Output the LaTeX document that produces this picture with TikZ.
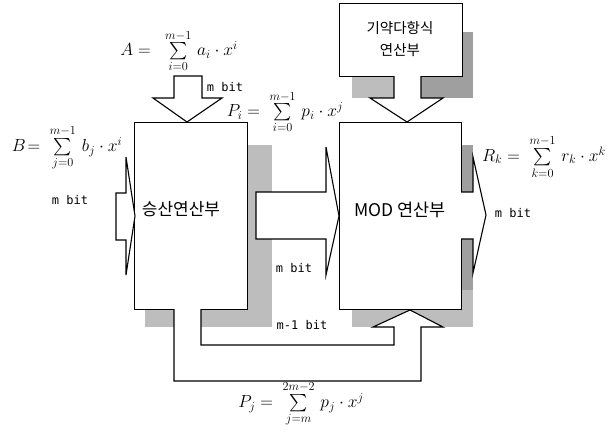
\RequirePackage{fix-cm}
\documentclass[tikz,border=0pt]{standalone}
\usepackage{exscale}
\usepackage{fontspec}
\newfontfamily\kr{Noto Sans CJK KR}
\newfontfamily\monofnt{DejaVu Sans Mono}
\begin{document}
\begin{tikzpicture}[x=1pt,y=-1pt,
  shl/.style={fill=gray!52,draw=none},
  shd/.style={fill=gray!75,draw=none},
  blk/.style={draw,line width=1.4pt,fill=white,inner sep=0pt,anchor=north west},
  barrow/.style={draw,line width=1.1pt,fill=white,line join=miter},
  lbl/.style={font=\monofnt\fontsize{12}{14}\selectfont,inner sep=0pt},
  ktxt/.style={font=\kr\fontsize{17}{20}\selectfont,inner sep=0pt},
  frm/.style={font=\fontsize{17.5}{20}\selectfont,inner sep=0pt}]
\useasboundingbox (0,0) rectangle (607,432);
% shadows
\fill[shl] (145,145) rectangle (272,327);
\fill[shl] (352,145) rectangle (473,327);
\fill[shd] (461,145) rectangle (473,192);
\fill[shd] (461,239) rectangle (473,290);
\fill[shl] (352,32) rectangle (473,98);
\fill[shd] (421,76) rectangle (473,98);
\fill[shd] (462,32) rectangle (473,98);
% blocks
\node[blk,minimum width=113pt,minimum height=187pt] (mul) at (134,122) {};
\node[blk,minimum width=122pt,minimum height=187pt] (mod) at (339,122) {};
\node[blk,minimum width=123pt,minimum height=73pt] (irr) at (339,3) {};
% feedback band
\draw[barrow] (174,309) -- (174,381) -- (421,381) -- (421,327) -- (443,327) -- (410,310)
  -- (373,327) -- (394,327) -- (394,345) -- (201,345) -- (201,309);
\fill[white] (175,308) rectangle (200,311);
% arrows
\draw[barrow] (116,193) -- (126,193) -- (126,157) -- (135,216) -- (126,275) -- (126,240) -- (116,240) -- cycle;
\draw[barrow] (174,76) -- (202,76) -- (202,98) -- (222,98) -- (187,122) -- (153,98) -- (174,98) -- cycle;
\draw[barrow] (256,192) -- (326,192) -- (326,147) -- (339,216) -- (326,275) -- (326,239) -- (256,239) -- cycle;
\draw[barrow] (394,76) -- (394,98) -- (370,98) -- (407,122) -- (443,98) -- (421,98) -- (421,76);
\draw[barrow] (461,192) -- (473,192) -- (473,157) -- (486,215) -- (473,273) -- (473,239) -- (461,239);
% block texts
\node[ktxt] (multxt) at (181,209) {승산연산부};
\node[ktxt,font=\kr\fontsize{17.5}{20}\selectfont] (modtxt) at (400,210) {MOD 연산부};
\node[ktxt,font=\kr\fontsize{14.5}{22}\selectfont,align=center] (irrtxt) at (400,39) {기약다항식\\연산부};
% bit labels
\node[lbl] (lA) at (225,87) {m bit};
\node[lbl] (lB) at (70,200) {m bit};
\node[lbl] (lM) at (294,268) {m bit};
\node[lbl] (lR) at (513,213) {m bit};
\node[lbl] (lF) at (302,325) {m-1 bit};
% formulas
\node[frm] (fA) at (179,51) {$A=\;\;\sum\limits_{i=0}^{m-1}\,a_i\cdot x^i$};
\node[frm] (fB) at (67,148) {$B\!=\;\sum\limits_{j=0}^{m-1}\,b_j\cdot x^i$};
\node[frm] (fP) at (285,112) {$P_i=\;\sum\limits_{i=0}^{m-1}\,p_i\cdot x^j$};
\node[frm] (fR) at (544,157) {$R_k=\;\sum\limits_{k=0}^{m-1}\,r_k\cdot x^k$};
\node[frm] (fJ) at (301,404) {$P_j=\;\sum\limits_{j=m}^{2m-2}\,p_j\cdot x^j$};
\end{tikzpicture}
\end{document}
